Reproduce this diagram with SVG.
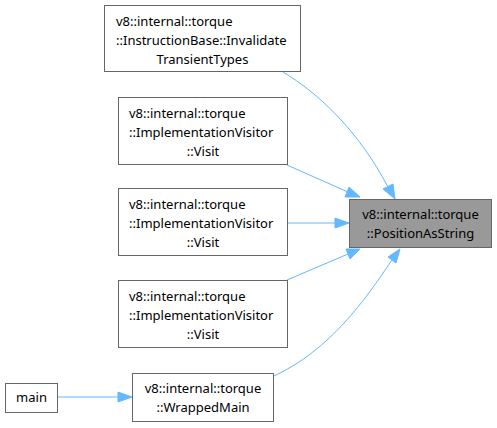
<svg xmlns="http://www.w3.org/2000/svg" width="497" height="428" viewBox="0 0 497 428">
<defs>
<style>
.box{fill:#ffffff;stroke:#666666;stroke-width:1}
.hl{fill:#999999;stroke:#666666;stroke-width:1}
text{font-family:"Noto Sans","DejaVu Sans",sans-serif;font-size:13px;fill:#000000}
.m{text-anchor:middle}
.e{fill:none;stroke:#63b8ff;stroke-width:1}
.a{fill:#63b8ff;stroke:#63b8ff}
</style>
</defs>
<rect width="497" height="428" fill="#ffffff"/>
<g id="edges">
<path class="e" d="M283,72 C318,93 358,130 388,187"/>
<polygon class="a" points="383,189 395,199 393,184"/>
<path class="e" d="M287,165 L348,192"/>
<polygon class="a" points="345,197 360,197 349,187"/>
<path class="e" d="M287,223 L335,223"/>
<polygon class="a" points="335,218 349,223 335,228"/>
<path class="e" d="M287,280 L348,254"/>
<polygon class="a" points="346,249 360,249 350,259"/>
<path class="e" d="M274,376 C330,350 365,300 392,260"/>
<polygon class="a" points="388,257 400,249 396,263"/>
<path class="e" d="M57,397 L118,397"/>
<polygon class="a" points="118,392 132,397 118,402"/>
</g>
<g id="n1">
<rect class="box" x="104.5" y="5.5" width="196" height="66"/>
<text x="116" y="26">v8::internal::torque</text>
<text x="116" y="45">::InstructionBase::Invalidate</text>
<text class="m" x="202.5" y="64">TransientTypes</text>
</g>
<g id="n2">
<rect class="box" x="118.5" y="97.5" width="169" height="67"/>
<text x="129" y="118">v8::internal::torque</text>
<text x="129" y="137">::ImplementationVisitor</text>
<text class="m" x="203" y="156">::Visit</text>
</g>
<g id="n3">
<rect class="box" x="118.5" y="188.5" width="169" height="67"/>
<text x="129" y="209">v8::internal::torque</text>
<text x="129" y="228">::ImplementationVisitor</text>
<text class="m" x="203" y="247">::Visit</text>
</g>
<g id="n4">
<rect class="box" x="118.5" y="280.5" width="169" height="67"/>
<text x="129" y="301">v8::internal::torque</text>
<text x="129" y="320">::ImplementationVisitor</text>
<text class="m" x="203" y="339">::Visit</text>
</g>
<g id="pas">
<rect class="hl" x="349.5" y="199.5" width="142" height="48"/>
<text class="m" x="420.5" y="219">v8::internal::torque</text>
<text class="m" x="420.5" y="238">::PositionAsString</text>
</g>
<g id="wm">
<rect class="box" x="132.5" y="373.5" width="141" height="48"/>
<text class="m" x="203" y="393">v8::internal::torque</text>
<text class="m" x="203" y="412">::WrappedMain</text>
</g>
<g id="main">
<rect class="box" x="5.5" y="383.5" width="52" height="29"/>
<text class="m" x="31.5" y="402">main</text>
</g>
</svg>
